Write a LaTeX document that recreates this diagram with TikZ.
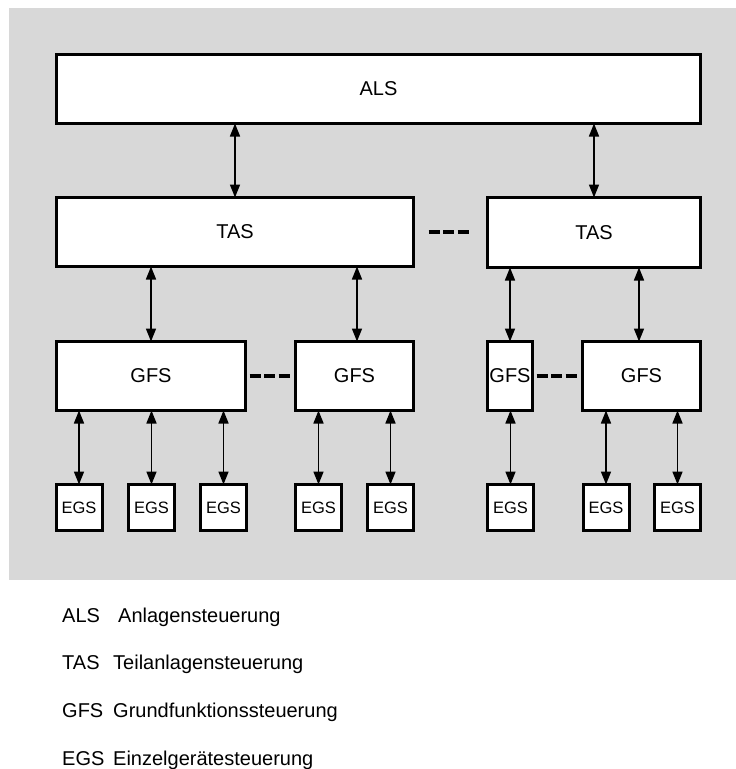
\documentclass[tikz,border=0pt]{standalone}
\usepackage{fontspec}
\setmainfont{Liberation Sans}
\usetikzlibrary{arrows.meta}
\definecolor{panel}{RGB}{216,216,216}
\tikzset{
  box/.style={draw, line width=3pt, fill=white, inner sep=0pt, outer sep=0pt,
    font=\fontsize{20}{24}\selectfont},
  egsbox/.style={box, minimum width=46pt, minimum height=46pt,
    font=\fontsize{16.5}{20}\selectfont},
  link/.style={line width=1.6pt, {Triangle[length=13pt,width=10pt]}-{Triangle[length=13pt,width=10pt]}},
  dashline/.style={line width=4pt, dash pattern=on 11pt off 3.5pt},
  legend/.style={anchor=base west, inner sep=0pt, font=\fontsize{20}{24}\selectfont}
}
\begin{document}
\begin{tikzpicture}[x=1pt,y=-1pt]
  \useasboundingbox (0,0) rectangle (736,769);
  \fill[panel] (9,8) rectangle (736,580);

  % top level
  \node[box, minimum width=644pt, minimum height=69pt] (als) at (378.5,89) {ALS};

  % second level
  \node[box, minimum width=357pt, minimum height=69pt] (tas1) at (235,232) {TAS};
  \node[box, minimum width=213pt, minimum height=70pt] (tas2) at (594,232.5) {TAS};

  % third level
  \node[box, minimum width=189pt, minimum height=69pt] (gfs1) at (151,376) {GFS};
  \node[box, minimum width=118pt, minimum height=69pt] (gfs2) at (354.5,376) {GFS};
  \node[box, minimum width=45pt, minimum height=69pt] (gfs3) at (510,376) {GFS};
  \node[box, minimum width=118pt, minimum height=69pt] (gfs4) at (641.5,376) {GFS};

  % field level
  \node[egsbox] (egs1) at (79,507.5) {EGS};
  \node[egsbox] (egs2) at (151.5,507.5) {EGS};
  \node[egsbox] (egs3) at (223.5,507.5) {EGS};
  \node[egsbox] (egs4) at (318.5,507.5) {EGS};
  \node[egsbox] (egs5) at (390.5,507.5) {EGS};
  \node[egsbox] (egs6) at (510.5,507.5) {EGS};
  \node[egsbox] (egs7) at (606,507.5) {EGS};
  \node[egsbox] (egs8) at (677.5,507.5) {EGS};

  % horizontal positions of the links between levels
  \coordinate (xa) at (235,0);
  \coordinate (xb) at (594,0);
  \coordinate (xc) at (151,0);
  \coordinate (xd) at (357,0);
  \coordinate (xe) at (510,0);
  \coordinate (xf) at (639,0);

  \draw[link] (als.south -| xa) -- (tas1.north -| xa);
  \draw[link] (als.south -| xb) -- (tas2.north -| xb);
  \draw[link] (tas1.south -| xc) -- (gfs1.north -| xc);
  \draw[link] (tas1.south -| xd) -- (gfs2.north -| xd);
  \draw[link] (tas2.south -| xe) -- (gfs3.north -| xe);
  \draw[link] (tas2.south -| xf) -- (gfs4.north -| xf);

  \draw[link] (gfs1.south -| egs1.north) -- (egs1.north);
  \draw[link] (gfs1.south -| egs2.north) -- (egs2.north);
  \draw[link] (gfs1.south -| egs3.north) -- (egs3.north);
  \draw[link] (gfs2.south -| egs4.north) -- (egs4.north);
  \draw[link] (gfs2.south -| egs5.north) -- (egs5.north);
  \draw[link] (gfs3.south -| egs6.north) -- (egs6.north);
  \draw[link] (gfs4.south -| egs7.north) -- (egs7.north);
  \draw[link] (gfs4.south -| egs8.north) -- (egs8.north);

  % "and so on" dashes
  \draw[dashline, shorten <=15pt, shorten >=16pt] (tas1.east) -- (tas1.east -| tas2.west);
  \draw[dashline, shorten <=4pt, shorten >=3pt] (gfs1.east) -- (gfs2.west);
  \draw[dashline, shorten <=4pt, shorten >=4pt] (gfs3.east) -- (gfs4.west);

  % legend
  \node[legend] (l1a) at (62,622) {ALS};
  \node[legend] (l1b) at (118,622) {Anlagensteuerung};
  \node[legend] (l2a) at (62,669) {TAS};
  \node[legend] (l2b) at (113,669) {Teilanlagensteuerung};
  \node[legend] (l3a) at (62,717) {GFS};
  \node[legend] (l3b) at (113,717) {Grundfunktionssteuerung};
  \node[legend] (l4a) at (62,765) {EGS};
  \node[legend] (l4b) at (113,765) {Einzelgerätesteuerung};
\end{tikzpicture}
\end{document}
